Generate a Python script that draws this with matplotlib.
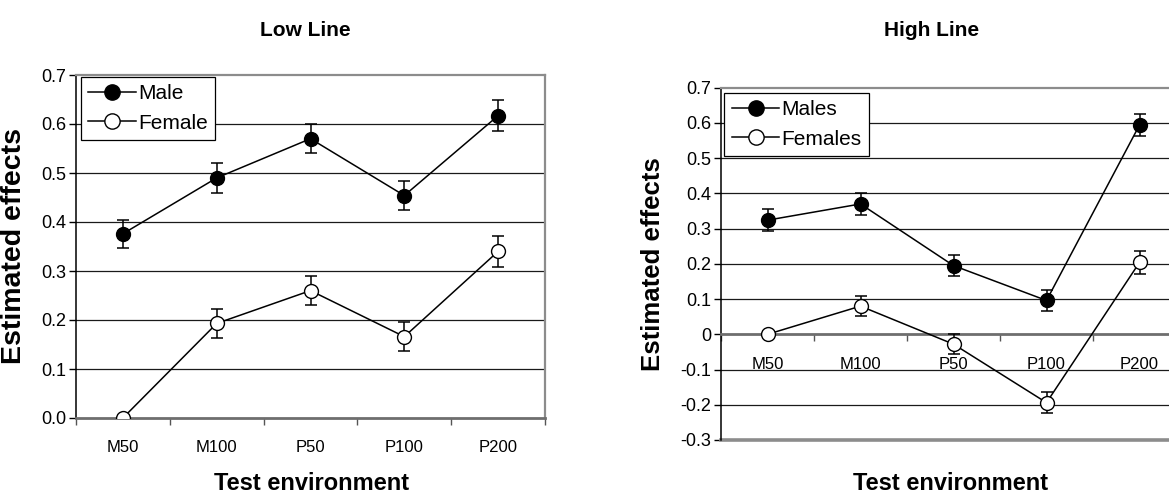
import matplotlib
matplotlib.use("Agg")
import matplotlib.pyplot as plt
from matplotlib.lines import Line2D
import numpy as np

plt.rcParams['font.family'] = ['Liberation Sans', 'DejaVu Sans']

categories = ["M50", "M100", "P50", "P100", "P200"]

low_male = [0.376, 0.490, 0.570, 0.454, 0.617]
low_male_err = [0.029, 0.030, 0.029, 0.029, 0.032]
low_female = [0.0, 0.193, 0.260, 0.166, 0.340]
low_female_err = [0.0, 0.030, 0.029, 0.029, 0.031]

high_male = [0.324, 0.370, 0.195, 0.096, 0.594]
high_male_err = [0.031, 0.030, 0.030, 0.030, 0.031]
high_female = [0.0, 0.080, -0.028, -0.194, 0.204]
high_female_err = [0.0, 0.028, 0.029, 0.030, 0.033]

low_yticks = [0.0, 0.1, 0.2, 0.3, 0.4, 0.5, 0.6, 0.7]
low_yticklabels = ["0.0", "0.1", "0.2", "0.3", "0.4", "0.5", "0.6", "0.7"]
high_yticks = [-0.3, -0.2, -0.1, 0.0, 0.1, 0.2, 0.3, 0.4, 0.5, 0.6, 0.7]
high_yticklabels = ["-0.3", "-0.2", "-0.1", "0", "0.1", "0.2", "0.3", "0.4", "0.5", "0.6", "0.7"]

W, H = 1169, 495
fig = plt.figure(figsize=(W / 100, H / 100), dpi=100)


def px_axes(x0, y0, x1, y1):
    return fig.add_axes([x0 / W, 1 - y1 / H, (x1 - x0) / W, (y1 - y0) / H])


def draw(ax, male, male_err, female, female_err, yticks, yticklabels, ylim,
         labels, ylabel_size, legend_anchor, zero_axis=False):
    x = np.arange(len(categories))
    if zero_axis:
        ax.spines['bottom'].set_position(('data', 0.0))
    ax.set_xlim(-0.5, len(categories) - 0.5)
    ax.set_ylim(*ylim)
    for t in yticks:
        if t in (ylim[0], ylim[1], 0.0):
            continue
        ax.axhline(t, color='#1a1a1a', lw=0.9, zorder=1)
    if zero_axis:
        ax.axhline(ylim[0], color='#8c8c8c', lw=2.6, zorder=2, clip_on=False)
    common = dict(color='black', lw=1.1, ms=10, capsize=4, elinewidth=1.1,
                  capthick=1.1, zorder=3)
    ax.errorbar(x, male, yerr=male_err, fmt='-o', mfc='black', mec='black',
                **common)
    ax.errorbar(x, female, yerr=female_err, fmt='-o', mfc='white', mec='black',
                **common)
    ax.set_yticks(yticks)
    ax.set_yticklabels(yticklabels, fontsize=13)
    ax.set_xticks(x)
    ax.set_xticklabels(categories, fontsize=12)
    ax.set_xticks(np.arange(len(categories) + 1) - 0.5, minor=True)
    ax.tick_params(axis='x', which='major', length=0, pad=16)
    ax.tick_params(axis='x', which='minor', length=5, width=1, color='#555555',
                   direction='out')
    ax.tick_params(axis='y', length=5, width=1, direction='out', pad=2)
    ax.spines['left'].set_color('black')
    ax.spines['left'].set_linewidth(1.1)
    for s in ('top', 'right'):
        ax.spines[s].set_color('#8c8c8c')
        ax.spines[s].set_linewidth(1.6)
    ax.spines['bottom'].set_color('#6e6e6e')
    ax.spines['bottom'].set_linewidth(2.0)
    ax.set_ylabel("Estimated effects", fontsize=ylabel_size, fontweight='bold',
                  labelpad=4)
    handles = [
        Line2D([], [], color='black', lw=1.1, marker='o', ms=11,
               mfc='black', mec='black'),
        Line2D([], [], color='black', lw=1.1, marker='o', ms=11,
               mfc='white', mec='black'),
    ]
    leg = ax.legend(handles, labels, loc='upper left',
                    bbox_to_anchor=legend_anchor,
                    borderaxespad=0, fontsize=15, frameon=True, fancybox=False,
                    edgecolor='black', framealpha=1, handlelength=2.3,
                    handletextpad=0.1, labelspacing=0.5, borderpad=0.35)
    leg.get_frame().set_linewidth(0.9)
    return ax


ax1 = px_axes(76, 75, 545, 418)
draw(ax1, low_male, low_male_err, low_female, low_female_err,
     low_yticks, low_yticklabels, (0.0, 0.7), ("Male", "Female"), 20.5,
     (0.011, 0.994))
ax1.yaxis.set_label_coords(-0.105, 0.5)

ax2 = px_axes(721, 87.7, 1186, 440)
draw(ax2, high_male, high_male_err, high_female, high_female_err,
     high_yticks, high_yticklabels, (-0.3, 0.7), ("Males", "Females"), 18.5,
     (0.007, 0.985), zero_axis=True)
ax2.yaxis.set_label_coords(-0.12, 0.5)

fig.text(305 / W, 1 - 30 / H, "Low Line", fontsize=15, fontweight='bold',
         ha='center', va='center')
fig.text(932 / W, 1 - 30 / H, "High Line", fontsize=15, fontweight='bold',
         ha='center', va='center')
fig.text(312 / W, 1 - 483 / H, "Test environment", fontsize=17,
         fontweight='bold', ha='center', va='center')
fig.text(951 / W, 1 - 483 / H, "Test environment", fontsize=17,
         fontweight='bold', ha='center', va='center')

fig.savefig("out.png", dpi=100)
